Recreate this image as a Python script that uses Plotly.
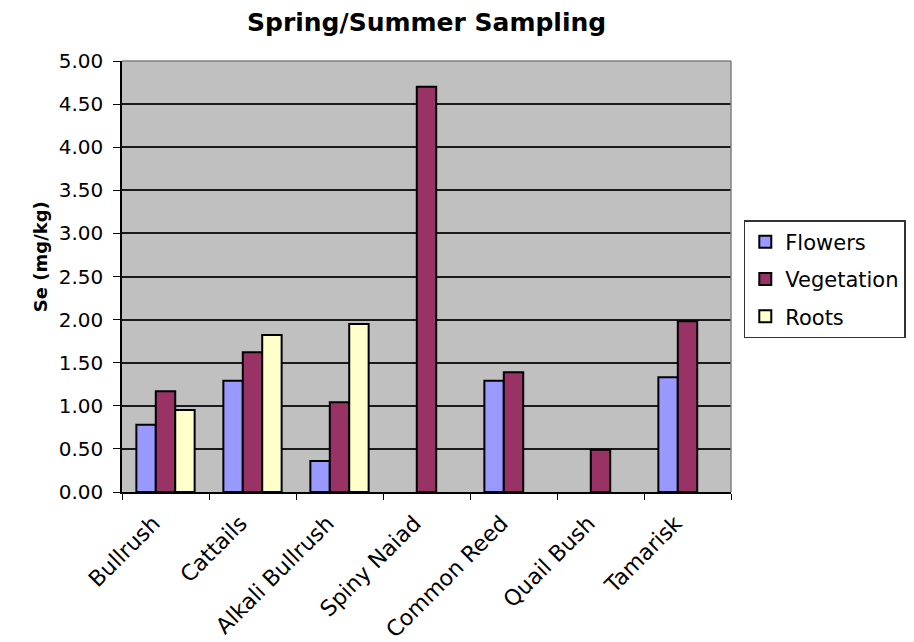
import plotly.graph_objects as go

categories = ["Bullrush", "Cattails", "Alkali Bullrush", "Spiny Naiad", "Common Reed", "Quail Bush", "Tamarisk"]
flowers = [0.78, 1.29, 0.36, None, 1.29, None, 1.33]
vegetation = [1.17, 1.62, 1.04, 4.70, 1.39, 0.49, 1.98]
roots = [0.95, 1.82, 1.95, None, None, None, None]
y_ticks = [0, 0.5, 1.0, 1.5, 2.0, 2.5, 3.0, 3.5, 4.0, 4.5, 5.0]

series = [("Flowers", flowers, "#9999FF"), ("Vegetation", vegetation, "#993366"), ("Roots", roots, "#FFFFCC")]

FONT = "DejaVu Sans, sans-serif"

fig = go.Figure()
for name, vals, col in series:
    fig.add_trace(go.Bar(x=categories, y=vals, name=name, legendgroup=name,
                         marker=dict(color=col, line=dict(color="black", width=2))))

fig.update_layout(
    width=914, height=642,
    margin=dict(l=114, r=191, t=53, b=158, autoexpand=False),
    paper_bgcolor="white", plot_bgcolor="#C0C0C0",
    barmode="group", bargap=0.33, bargroupgap=0,
    title=dict(text="<b>Spring/Summer Sampling</b>", x=0.458, xanchor="center", y=0.978, yanchor="middle",
               font=dict(family=FONT, size=25, color="black")),
    font=dict(family=FONT, size=20, color="black"),
    legend=dict(x=1.021, xanchor="left", y=0.494, yanchor="middle", bgcolor="white",
                bordercolor="#333333", borderwidth=1.5, font=dict(size=21, family=FONT), tracegroupgap=7),
    showlegend=True,
)
fig.update_yaxes(range=[0, 5], tickvals=y_ticks, tickformat=".2f", showgrid=True, gridcolor="#1a1a1a", gridwidth=1.5,
                 showline=True, linecolor="black", linewidth=1.5, ticks="outside", ticklen=7, tickcolor="black",
                 ticklabelstandoff=6, tickfont=dict(size=20), zeroline=False, automargin=False)
fig.update_xaxes(showline=True, linecolor="black", linewidth=1.5, ticks="outside", ticklen=6, tickcolor="black",
                 tickangle=-45, tickfont=dict(size=22), tickson="boundaries",
                 ticklabelshift=-12, ticklabelstandoff=8, automargin=False)
# y-axis title
fig.add_annotation(text="<b>Se (mg/kg)</b>", xref="paper", yref="paper", x=-0.1346, y=0.545,
                   xanchor="center", yanchor="middle", textangle=-90, showarrow=False,
                   font=dict(family=FONT, size=18, color="black"))
# gray border on top and right of plot area
fig.add_shape(type="line", xref="paper", yref="paper", x0=0, x1=1, y0=1, y1=1, line=dict(color="#808080", width=1.5))
fig.add_shape(type="line", xref="paper", yref="paper", x0=1, x1=1, y0=0, y1=1, line=dict(color="#808080", width=1.5))

fig.write_html("out.html")
